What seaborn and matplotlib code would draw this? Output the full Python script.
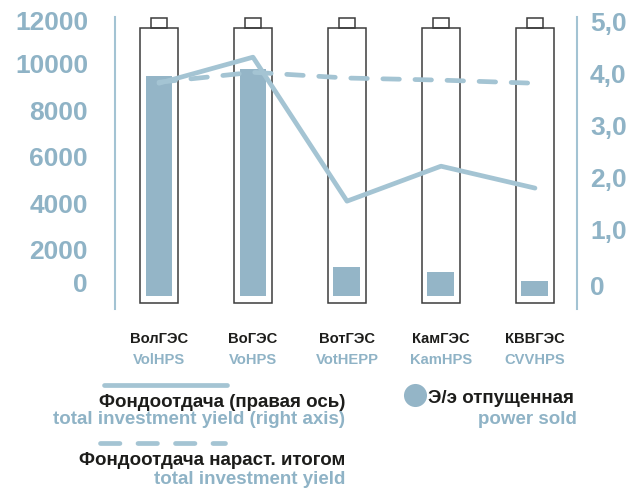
import numpy as np
import matplotlib
matplotlib.use("Agg")
import matplotlib.pyplot as plt
import matplotlib.transforms as mtransforms
from matplotlib import font_manager as fm
from matplotlib.lines import Line2D
import seaborn as sns

# ---------------- data ----------------
stations_ru = ["ВолГЭС", "ВоГЭС", "ВотГЭС", "КамГЭС", "КВВГЭС"]
stations_en = ["VolHPS", "VoHPS", "VotHEPP", "KamHPS", "CVVHPS"]
power_sold = [9460, 9760, 1250, 1030, 650]          # left axis (bars)
yield_right = [3.81, 4.31, 1.55, 2.22, 1.80]        # right axis, solid line
yield_total = [3.83, 4.02, 3.91, 3.87, 3.81]        # right axis, dashed line
left_ticks = [0, 2000, 4000, 6000, 8000, 10000, 12000]
left_ticklabels = ["0", "2000", "4000", "6000", "8000", "10000", "12000"]
right_ticks = [0, 1, 2, 3, 4, 5]
right_ticklabels = ["0", "1,0", "2,0", "3,0", "4,0", "5,0"]
leg_solid_ru = "Фондоотдача (правая ось)"
leg_solid_en = "total investment yield (right axis)"
leg_dash_ru = "Фондоотдача нараст. итогом"
leg_dash_en = "total investment yield"
leg_bar_ru = "Э/э отпущенная"
leg_bar_en = "power sold"

# ---------------- style ----------------
sns.set_theme(style="white")
plt.rcParams["font.family"] = ["Liberation Sans", "DejaVu Sans"]
plt.rcParams["font.weight"] = "bold"
plt.rcParams["lines.scale_dashes"] = False

names = {f.name for f in fm.fontManager.ttflist}
if "Liberation Sans Narrow" in names:
    NARROW = ["Liberation Sans Narrow", "DejaVu Sans"]
    NARROW_SIZE = 12.6
else:
    NARROW = ["Liberation Sans", "DejaVu Sans"]
    NARROW_SIZE = 10.6

BAR = "#94b5c7"
LINE = "#a4c4d3"
TICK = "#8fb3c6"
SPINE = "#a3c3d3"
DARK = "#1d1d1b"
OUTLINE = "#3c3c3c"

W, H = 641, 491
fig = plt.figure(figsize=(W / 100, H / 100), dpi=100)

def fx(x):
    return x / W

def fy(y):
    return 1 - y / H

ax = fig.add_axes([fx(115), fy(309), (577 - 115) / W, (309 - 17) / H])
ax2 = ax.twinx()

x = np.arange(len(stations_ru))

# battery outlines (decoration)
ax.bar(x, 11527 + 301, bottom=-301, width=0.404, fill=False,
       edgecolor=OUTLINE, linewidth=1.1, zorder=1)
ax.bar(x, 11957 - 11527, bottom=11527, width=0.17, fill=False,
       edgecolor=OUTLINE, linewidth=1.1, zorder=1, clip_on=False)

# bars
sns.barplot(x=stations_ru, y=power_sold, ax=ax, color=BAR, saturation=1,
            width=0.287, linewidth=0, zorder=2)

# lines
sns.lineplot(x=x, y=yield_right, ax=ax2, color=LINE, linewidth=3.4)
ln = ax2.lines[-1]
ln.set_solid_capstyle("round")
ln.set_solid_joinstyle("round")
sns.lineplot(x=x, y=yield_total, ax=ax2, color=LINE, linewidth=3.4)
ln = ax2.lines[-1]
ln.set_dashes([11.9, 11.2])
ln.set_dash_capstyle("round")

# limits
ax.set_xlim(-0.468, 4.447)
ax.set_ylim(-559, 12000)
ax2.set_ylim(-0.5175, 5.08)

for a in (ax, ax2):
    a.set_xlabel("")
    a.set_ylabel("")
    a.grid(False)
    for s in a.spines.values():
        s.set_visible(False)
ax.set_xticks([])
ax2.set_xticks([])
ax.spines["left"].set_visible(True)
ax.spines["left"].set_color(SPINE)
ax.spines["left"].set_linewidth(1.5)
ax2.spines["right"].set_visible(True)
ax2.spines["right"].set_color(SPINE)
ax2.spines["right"].set_linewidth(1.5)

ax.set_yticks(left_ticks)
ax.set_yticklabels(left_ticklabels)
ax.tick_params(axis="y", length=0, pad=19.4, labelsize=19, labelcolor=TICK)
ax2.set_yticks(right_ticks)
ax2.set_yticklabels(right_ticklabels)
ax2.tick_params(axis="y", length=0, pad=9.4, labelsize=19, labelcolor=TICK,
                left=False, labelleft=False, right=True, labelright=True)
for lab in ax.get_yticklabels() + ax2.get_yticklabels():
    lab.set_fontweight("bold")

# nudge the end labels as in the reference
lt = ax.yaxis.get_major_ticks()
lt[0].label1.set_transform(lt[0].label1.get_transform() +
                           mtransforms.ScaledTranslation(0, 13.5 / 100, fig.dpi_scale_trans))
lt[-1].label1.set_transform(lt[-1].label1.get_transform() +
                            mtransforms.ScaledTranslation(0, -3.5 / 100, fig.dpi_scale_trans))
rt = ax2.yaxis.get_major_ticks()
rt[0].label2.set_transform(rt[0].label2.get_transform() +
                           mtransforms.ScaledTranslation(0, -3.5 / 100, fig.dpi_scale_trans))

# category labels
blend = mtransforms.blended_transform_factory(ax.transData, fig.transFigure)
for i, (ru, en) in enumerate(zip(stations_ru, stations_en)):
    fig.text(i, fy(343.3), ru, transform=blend, ha="center", va="baseline",
             family=NARROW, fontsize=NARROW_SIZE, fontweight="bold", color=DARK)
    fig.text(i, fy(364), en, transform=blend, ha="center", va="baseline",
             family=NARROW, fontsize=NARROW_SIZE, fontweight="bold", color=TICK)

# legend
LEG = 13.5
fig.add_artist(Line2D([fx(104), fx(227)], [fy(384.5)] * 2, transform=fig.transFigure,
                      color=LINE, linewidth=3.4, solid_capstyle="round"))
fig.text(fx(345), fy(406.7), leg_solid_ru, ha="right", va="baseline",
         fontsize=LEG, fontweight="bold", color=DARK)
fig.text(fx(345), fy(424.5), leg_solid_en, ha="right", va="baseline",
         fontsize=LEG, fontweight="bold", color=TICK)
fig.add_artist(Line2D([fx(100.5), fx(225)], [fy(443.3)] * 2, transform=fig.transFigure,
                      color=LINE, linewidth=3.4, dash_capstyle="round",
                      dashes=[14, 13]))
fig.text(fx(345), fy(464.7), leg_dash_ru, ha="right", va="baseline",
         fontsize=LEG, fontweight="bold", color=DARK)
fig.text(fx(345), fy(484), leg_dash_en, ha="right", va="baseline",
         fontsize=LEG, fontweight="bold", color=TICK)
fig.add_artist(Line2D([fx(415)], [fy(395)], transform=fig.transFigure, marker="o",
                      markersize=16.6, markerfacecolor=BAR, markeredgewidth=0,
                      linestyle="none"))
fig.text(fx(428.3), fy(403.3), leg_bar_ru, ha="left", va="baseline",
         fontsize=LEG, fontweight="bold", color=DARK)
fig.text(fx(577), fy(424.5), leg_bar_en, ha="right", va="baseline",
         fontsize=LEG, fontweight="bold", color=TICK)

fig.savefig("out.png", dpi=100)
